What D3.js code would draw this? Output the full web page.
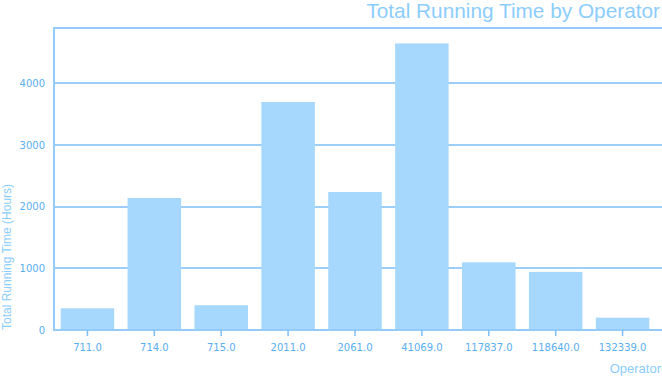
<!DOCTYPE html>
<html><head><meta charset="utf-8">
<script src="https://cdn.jsdelivr.net/npm/d3@7"></script>
<style>body{margin:0;background:#fff}svg{display:block}</style>
</head><body>
<svg id="c" width="662" height="379"></svg>
<script>
const categories = ["711.0","714.0","715.0","2011.0","2061.0","41069.0","117837.0","118640.0","132339.0"];
const values = [352, 2141, 402, 3700, 2239, 4650, 1098, 943, 200];
const yTicks = [0, 1000, 2000, 3000, 4000];

const svg = d3.select("#c");
const m = {l:54, r:6, t:28, b:49};
const W = 662, H = 379;
const x = d3.scaleBand().domain(categories).range([m.l, W - m.r]).paddingInner(0.2).paddingOuter(0.1);
const y = d3.scaleLinear().domain([0, 4900]).range([H - m.b, m.t]);

const lineC = "#7cbef6", axisC = "#94cbfa", textC = "#5aaef2", barC = "#a6d8fd", titleC = "#8ccdfd";

// gridlines
svg.append("g").selectAll("line").data(yTicks.slice(1)).join("line")
  .attr("x1", m.l).attr("x2", W).attr("y1", d => Math.round(y(d))).attr("y2", d => Math.round(y(d)))
  .attr("stroke", lineC).attr("stroke-width", 1.5);
// top border
svg.append("line").attr("x1", m.l).attr("x2", W).attr("y1", m.t).attr("y2", m.t).attr("stroke", axisC).attr("stroke-width", 2);

// bars
svg.append("g").selectAll("rect").data(values).join("rect")
  .attr("x", (d,i) => x(categories[i])).attr("width", x.bandwidth())
  .attr("y", d => y(d)).attr("height", d => y(0) - y(d))
  .attr("fill", barC);

// y axis
const ya = svg.append("g").attr("transform", `translate(${m.l},0)`)
  .call(d3.axisLeft(y).tickValues(yTicks).tickFormat(d3.format("d")).tickSize(0).tickPadding(9));
ya.select(".domain").attr("stroke", axisC).attr("stroke-width", 2).attr("d", `M0,${m.t - 1}V${H-m.b}`);
ya.selectAll("text").attr("fill", textC).style("font-family", "'DejaVu Sans', sans-serif").style("font-size", "10px");

// x axis
const xa = svg.append("g").attr("transform", `translate(0,${Math.round(y(0))})`)
  .call(d3.axisBottom(x).tickSize(6).tickPadding(8));
xa.select(".domain").attr("stroke", axisC).attr("stroke-width", 2).attr("d", `M${m.l - 1},0H${W}`);
xa.selectAll(".tick line").attr("stroke", lineC).attr("stroke-width", 1.5);
xa.selectAll("text").attr("fill", textC).style("font-family", "'DejaVu Sans', sans-serif").style("font-size", "10px");

// title
svg.append("text").attr("x", 660).attr("y", 18).attr("text-anchor", "end")
  .attr("fill", titleC).style("font-family", "'Liberation Sans', Arial, sans-serif").style("font-size", "20.8px")
  .text("Total Running Time by Operator");
// axis titles
svg.append("text").attr("x", 661).attr("y", 373).attr("text-anchor", "end")
  .attr("fill", titleC).style("font-family", "'Liberation Sans', Arial, sans-serif").style("font-size", "13px")
  .text("Operator");
svg.append("text").attr("transform", `translate(11,${H - m.b}) rotate(-90)`).attr("text-anchor", "start")
  .attr("fill", titleC).style("font-family", "'Liberation Sans', Arial, sans-serif").style("font-size", "12px")
  .text("Total Running Time (Hours)");
</script>
</body></html>
